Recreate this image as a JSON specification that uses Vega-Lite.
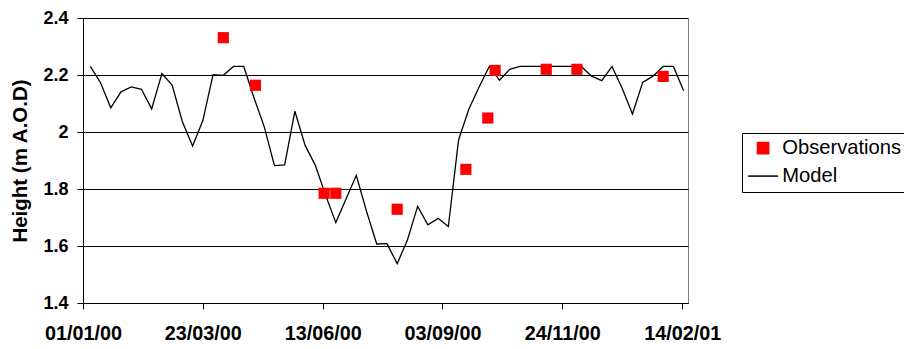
{
  "$schema": "https://vega.github.io/schema/vega-lite/v6.json",
  "width": 605,
  "height": 285,
  "autosize": {"type": "none"},
  "padding": {"left": 83, "top": 18, "right": 216, "bottom": 46},
  "background": "white",
  "config": {
    "view": {"stroke": "#808080", "strokeWidth": 1},
    "font": "Liberation Sans"
  },
  "datasets": {
    "model": [
      {"date": "2000-01-06", "height": 2.230, "series": "Model"},
      {"date": "2000-01-13", "height": 2.173, "series": "Model"},
      {"date": "2000-01-20", "height": 2.085, "series": "Model"},
      {"date": "2000-01-27", "height": 2.141, "series": "Model"},
      {"date": "2000-02-03", "height": 2.158, "series": "Model"},
      {"date": "2000-02-10", "height": 2.150, "series": "Model"},
      {"date": "2000-02-17", "height": 2.081, "series": "Model"},
      {"date": "2000-02-24", "height": 2.205, "series": "Model"},
      {"date": "2000-03-02", "height": 2.165, "series": "Model"},
      {"date": "2000-03-09", "height": 2.036, "series": "Model"},
      {"date": "2000-03-16", "height": 1.951, "series": "Model"},
      {"date": "2000-03-23", "height": 2.040, "series": "Model"},
      {"date": "2000-03-30", "height": 2.201, "series": "Model"},
      {"date": "2000-04-06", "height": 2.199, "series": "Model"},
      {"date": "2000-04-13", "height": 2.230, "series": "Model"},
      {"date": "2000-04-20", "height": 2.230, "series": "Model"},
      {"date": "2000-04-27", "height": 2.120, "series": "Model"},
      {"date": "2000-05-04", "height": 2.019, "series": "Model"},
      {"date": "2000-05-11", "height": 1.882, "series": "Model"},
      {"date": "2000-05-18", "height": 1.885, "series": "Model"},
      {"date": "2000-05-25", "height": 2.073, "series": "Model"},
      {"date": "2000-06-01", "height": 1.953, "series": "Model"},
      {"date": "2000-06-08", "height": 1.883, "series": "Model"},
      {"date": "2000-06-15", "height": 1.778, "series": "Model"},
      {"date": "2000-06-22", "height": 1.682, "series": "Model"},
      {"date": "2000-06-29", "height": 1.765, "series": "Model"},
      {"date": "2000-07-06", "height": 1.848, "series": "Model"},
      {"date": "2000-07-13", "height": 1.722, "series": "Model"},
      {"date": "2000-07-20", "height": 1.607, "series": "Model"},
      {"date": "2000-07-27", "height": 1.608, "series": "Model"},
      {"date": "2000-08-03", "height": 1.538, "series": "Model"},
      {"date": "2000-08-10", "height": 1.621, "series": "Model"},
      {"date": "2000-08-17", "height": 1.739, "series": "Model"},
      {"date": "2000-08-24", "height": 1.674, "series": "Model"},
      {"date": "2000-08-31", "height": 1.697, "series": "Model"},
      {"date": "2000-09-07", "height": 1.668, "series": "Model"},
      {"date": "2000-09-14", "height": 1.972, "series": "Model"},
      {"date": "2000-09-21", "height": 2.080, "series": "Model"},
      {"date": "2000-09-28", "height": 2.157, "series": "Model"},
      {"date": "2000-10-05", "height": 2.230, "series": "Model"},
      {"date": "2000-10-12", "height": 2.182, "series": "Model"},
      {"date": "2000-10-19", "height": 2.220, "series": "Model"},
      {"date": "2000-10-26", "height": 2.230, "series": "Model"},
      {"date": "2000-11-02", "height": 2.230, "series": "Model"},
      {"date": "2000-11-09", "height": 2.230, "series": "Model"},
      {"date": "2000-11-16", "height": 2.230, "series": "Model"},
      {"date": "2000-11-23", "height": 2.230, "series": "Model"},
      {"date": "2000-11-30", "height": 2.230, "series": "Model"},
      {"date": "2000-12-07", "height": 2.230, "series": "Model"},
      {"date": "2000-12-14", "height": 2.196, "series": "Model"},
      {"date": "2000-12-21", "height": 2.180, "series": "Model"},
      {"date": "2000-12-28", "height": 2.230, "series": "Model"},
      {"date": "2001-01-04", "height": 2.153, "series": "Model"},
      {"date": "2001-01-11", "height": 2.063, "series": "Model"},
      {"date": "2001-01-18", "height": 2.174, "series": "Model"},
      {"date": "2001-01-25", "height": 2.196, "series": "Model"},
      {"date": "2001-02-01", "height": 2.230, "series": "Model"},
      {"date": "2001-02-08", "height": 2.230, "series": "Model"},
      {"date": "2001-02-15", "height": 2.145, "series": "Model"}
    ],
    "obs": [
      {"date": "2000-04-06", "height": 2.331, "series": "Observations"},
      {"date": "2000-04-28", "height": 2.164, "series": "Observations"},
      {"date": "2000-06-14", "height": 1.785, "series": "Observations"},
      {"date": "2000-06-22", "height": 1.785, "series": "Observations"},
      {"date": "2000-08-03", "height": 1.729, "series": "Observations"},
      {"date": "2000-09-19", "height": 1.869, "series": "Observations"},
      {"date": "2000-10-04", "height": 2.049, "series": "Observations"},
      {"date": "2000-10-09", "height": 2.216, "series": "Observations"},
      {"date": "2000-11-13", "height": 2.220, "series": "Observations"},
      {"date": "2000-12-04", "height": 2.220, "series": "Observations"},
      {"date": "2001-02-01", "height": 2.195, "series": "Observations"}
    ]
  },
  "encoding": {
    "x": {
      "field": "date",
      "type": "temporal",
      "scale": {
        "type": "utc",
        "domain": [
          {"year": 2000, "month": 1, "date": 1, "utc": true},
          {"year": 2001, "month": 2, "date": 18, "utc": true}
        ]
      },
      "axis": {
        "title": null,
        "values": [
          {"year": 2000, "month": 1, "date": 1, "utc": true},
          {"year": 2000, "month": 3, "date": 23, "utc": true},
          {"year": 2000, "month": 6, "date": 13, "utc": true},
          {"year": 2000, "month": 9, "date": 3, "utc": true},
          {"year": 2000, "month": 11, "date": 24, "utc": true},
          {"year": 2001, "month": 2, "date": 14, "utc": true}
        ],
        "format": "%d/%m/%y",
        "grid": false,
        "domainColor": "#000000",
        "tickColor": "#000000",
        "tickSize": 6,
        "labelFont": "Liberation Sans",
        "labelFontWeight": "bold",
        "labelFontSize": 19.8,
        "labelColor": "#000000",
        "labelPadding": 14,
        "labelFlush": false,
        "labelOverlap": false
      }
    },
    "y": {
      "field": "height",
      "type": "quantitative",
      "scale": {"domain": [1.4, 2.4], "nice": false, "zero": false},
      "axis": {
        "title": "Height (m A.O.D)",
        "values": [1.4, 1.6, 1.8, 2.0, 2.2, 2.4],
        "format": "~g",
        "grid": true,
        "gridColor": "#000000",
        "gridWidth": 1,
        "domainColor": "#000000",
        "tickColor": "#000000",
        "tickSize": 6,
        "labelFont": "Liberation Sans",
        "labelFontWeight": "bold",
        "labelFontSize": 18,
        "labelColor": "#000000",
        "labelPadding": 9,
        "labelFlush": false,
        "titleFont": "Liberation Sans",
        "titleFontWeight": "bold",
        "titleFontSize": 20.5,
        "titleColor": "#000000",
        "titlePadding": 12
      }
    },
    "color": {
      "field": "series",
      "type": "nominal",
      "scale": {"domain": ["Observations", "Model"], "range": ["#ff0000", "#000000"]},
      "legend": {
        "title": null,
        "orient": "none",
        "legendX": 659,
        "legendY": 115,
        "strokeColor": "#000000",
        "fillColor": "#ffffff",
        "padding": 5,
        "rowPadding": 7,
        "symbolSize": 900,
        "symbolOffset": 6,
        "symbolStrokeWidth": 1.5,
        "labelFont": "Liberation Sans",
        "labelFontSize": 20.2,
        "labelColor": "#000000",
        "labelOffset": 9,
        "encode": {
          "symbols": {
            "update": {
              "shape": {"signal": "datum.value === 'Model' ? 'stroke' : 'square'"},
              "size": {"signal": "datum.value === 'Model' ? 900 : 125"},
              "fill": {"signal": "datum.value === 'Model' ? 'transparent' : '#ff0000'"},
              "stroke": {"signal": "datum.value === 'Model' ? '#000000' : 'transparent'"},
              "strokeWidth": {"value": 1.5},
              "opacity": {"value": 1}
            }
          }
        }
      }
    }
  },
  "layer": [
    {
      "data": {"name": "model"},
      "mark": {"type": "line", "strokeWidth": 1.3, "interpolate": "linear"}
    },
    {
      "data": {"name": "obs"},
      "mark": {"type": "point", "shape": "square", "filled": true, "size": 125, "opacity": 1, "strokeWidth": 0}
    }
  ]
}
